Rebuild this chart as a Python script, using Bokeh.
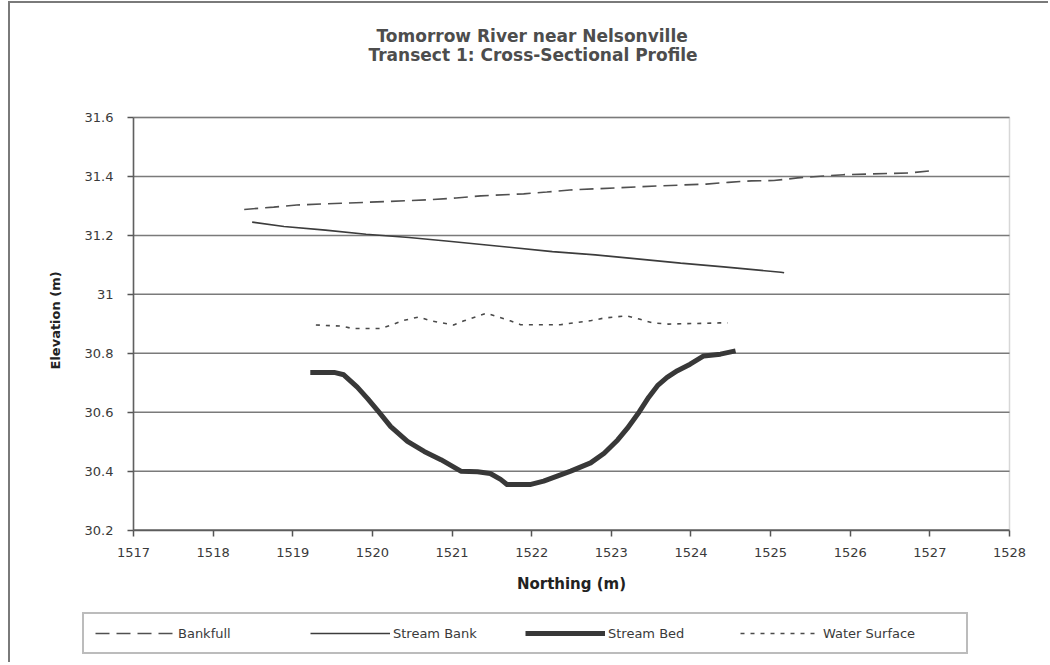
from bokeh.plotting import figure
from bokeh.models import Title, Legend, LegendItem, FixedTicker, Range1d, BoxAnnotation
from bokeh.embed import file_html
from bokeh.resources import INLINE

# ---------------- data ----------------
bankfull_x = [1518.39, 1518.76, 1519.05, 1519.61, 1520.19, 1520.73, 1521.05, 1521.36,
              1521.90, 1522.19, 1522.48, 1523.04, 1523.60, 1524.19, 1524.47, 1524.76,
              1525.04, 1525.34, 1525.92, 1526.75, 1527.00]
bankfull_y = [31.288, 31.296, 31.303, 31.309, 31.315, 31.321, 31.327, 31.334,
              31.341, 31.347, 31.354, 31.361, 31.368, 31.374, 31.380, 31.385,
              31.386, 31.395, 31.406, 31.412, 31.419]

bank_x = [1518.49, 1518.89, 1519.41, 1519.92, 1520.46, 1520.96, 1521.72, 1522.26,
          1522.80, 1523.29, 1523.87, 1524.41, 1525.13, 1525.17]
bank_y = [31.245, 31.230, 31.218, 31.204, 31.193, 31.180, 31.160, 31.145,
          31.134, 31.121, 31.106, 31.093, 31.075, 31.073]

bed_x = [1519.22, 1519.52, 1519.64, 1519.81, 1519.94, 1520.08, 1520.23, 1520.44,
         1520.65, 1520.86, 1521.11, 1521.32, 1521.48, 1521.61, 1521.69, 1521.99,
         1522.15, 1522.32, 1522.49, 1522.74, 1522.91, 1523.08, 1523.20, 1523.35,
         1523.47, 1523.58, 1523.70, 1523.83, 1523.99, 1524.16, 1524.37, 1524.56]
bed_y = [30.735, 30.735, 30.727, 30.685, 30.646, 30.601, 30.551, 30.501,
         30.467, 30.439, 30.400, 30.398, 30.392, 30.372, 30.355, 30.355,
         30.366, 30.383, 30.400, 30.428, 30.461, 30.506, 30.545, 30.601,
         30.651, 30.690, 30.718, 30.741, 30.763, 30.791, 30.797, 30.808]

water_x = [1519.29, 1519.62, 1519.75, 1520.10, 1520.24, 1520.37, 1520.58, 1520.73,
           1521.02, 1521.15, 1521.43, 1521.73, 1521.86, 1522.36, 1522.75, 1522.92,
           1523.19, 1523.35, 1523.52, 1523.72, 1524.36, 1524.46]
water_y = [30.896, 30.892, 30.884, 30.884, 30.896, 30.910, 30.923, 30.910,
           30.896, 30.910, 30.936, 30.910, 30.897, 30.897, 30.911, 30.920,
           30.927, 30.916, 30.903, 30.899, 30.903, 30.903]

series_names = ["Bankfull", "Stream Bank", "Stream Bed", "Water Surface"]

x_ticks = [1517, 1518, 1519, 1520, 1521, 1522, 1523, 1524, 1525, 1526, 1527, 1528]
x_tick_labels = ["1517", "1518", "1519", "1520", "1521", "1522", "1523", "1524",
                 "1525", "1526", "1527", "1528"]
y_ticks = [30.2, 30.4, 30.6, 30.8, 31.0, 31.2, 31.4, 31.6]
y_tick_labels = ["30.2", "30.4", "30.6", "30.8", "31", "31.2", "31.4", "31.6"]

title_line1 = "Tomorrow River near Nelsonville"
title_line2 = "Transect 1: Cross-Sectional Profile"
x_label = "Northing (m)"
y_label = "Elevation (m)"

# ---------------- layout (pixels) ----------------
PLOT_W, PLOT_H = 876, 412.6          # the gridded plot area
LEFT_BAND, LEGEND_BAND = 51, 124.4   # frame room left of / below the plot area
RIGHT_BAND, TOP_BAND = 25, 10        # frame room right of / above the plot area
FRAME_W = int(PLOT_W + LEFT_BAND + RIGHT_BAND)
FRAME_H = int(round(PLOT_H + LEGEND_BAND + TOP_BAND))

x0, x1 = x_ticks[0], x_ticks[-1]
y0, y1 = y_ticks[0], y_ticks[-1]
x_start = x0 - LEFT_BAND * (x1 - x0) / PLOT_W
x_end = x1 + RIGHT_BAND * (x1 - x0) / PLOT_W
y_start = y0 - LEGEND_BAND * (y1 - y0) / PLOT_H
y_end = y1 + TOP_BAND * (y1 - y0) / PLOT_H

GRAY = "#7a7a7a"
TXT = "#3a3a3a"

p = figure(frame_width=FRAME_W, frame_height=FRAME_H, output_backend="svg",
           toolbar_location=None, title=None,
           x_range=Range1d(x_start, x_end), y_range=Range1d(y_start, y_end),
           min_border_left=72, min_border_right=14,
           min_border_top=104, min_border_bottom=8,
           background_fill_color="white", border_fill_color="white")
p.styles = {"margin-left": "8px", "margin-top": "1px",
            "border-left": "2px solid #7a7a7a", "border-top": "2px solid #7a7a7a"}
p.outline_line_color = None
p.xgrid.visible = False
p.ygrid.visible = False

# horizontal grid lines across the plot area, at the y ticks
p.segment(x0=[x0] * len(y_ticks), x1=[x1] * len(y_ticks), y0=y_ticks, y1=y_ticks,
          line_color=GRAY, line_width=1.5)
# plot-area border
p.add_layout(BoxAnnotation(left=x0, right=x1, bottom=y0, top=y1,
                           fill_alpha=0, line_color=GRAY, line_width=1.5))

for ax in (p.xaxis[0], p.yaxis[0]):
    ax.axis_line_color = "#555555"
    ax.axis_line_width = 1.5
    ax.major_tick_line_color = "#555555"
    ax.major_tick_line_width = 1.5
    ax.major_tick_in = 0
    ax.major_tick_out = 6
    ax.minor_tick_line_color = None
    ax.major_label_text_font = "DejaVu Sans"
    ax.major_label_text_font_size = "13px"
    ax.major_label_text_color = TXT
    ax.axis_label_text_font = "DejaVu Sans"
    ax.axis_label_text_font_style = "bold"
    ax.axis_label_text_color = "#222222"

p.xaxis.fixed_location = y0
p.xaxis.bounds = (x0, x1)
p.xaxis.ticker = FixedTicker(ticks=x_ticks)
p.xaxis.major_label_overrides = {t: l for t, l in zip(x_ticks, x_tick_labels)}
p.xaxis.major_label_standoff = 12
p.xaxis.axis_label = x_label
p.xaxis.axis_label_text_font_size = "15px"
p.xaxis.axis_label_standoff = 14

p.yaxis.fixed_location = x0
p.yaxis.bounds = (y0, y1)
p.yaxis.ticker = FixedTicker(ticks=y_ticks)
p.yaxis.major_label_overrides = {t: l for t, l in zip(y_ticks, y_tick_labels)}
p.yaxis.major_label_standoff = 14

# y-axis title in the left panel (outside the frame)
ytitle = Title(text=y_label, align="left", offset=285, standoff=39,
               text_font="DejaVu Sans", text_font_size="13px", text_font_style="bold",
               text_color="#222222")
p.add_layout(ytitle, "left")

r_bf = p.line(bankfull_x, bankfull_y, line_color="#505050", line_width=1.6, line_dash="14 7")
r_sb = p.line(bank_x, bank_y, line_color="#3c3c3c", line_width=1.6)
r_bed = p.line(bed_x, bed_y, line_color="#383838", line_width=5, line_join="round")
r_ws = p.line(water_x, water_y, line_color="#4a4a4a", line_width=1.6, line_dash="4 6")

legend = Legend(
    items=[LegendItem(label=n, renderers=[r]) for n, r in
           zip(series_names, [r_bf, r_sb, r_bed, r_ws])],
    orientation="horizontal", location=(0, 0), margin=0,
    glyph_width=80, glyph_height=16, label_standoff=3, spacing=0, padding=11,
    label_width=132, label_text_font="DejaVu Sans", label_text_font_size="13px",
    label_text_color=TXT, border_line_color=GRAY, border_line_width=2,
    background_fill_color="white", background_fill_alpha=1.0)
p.add_layout(legend)

# title block: spacer next to the frame, then line 2, then line 1
spacer = Title(text=" ", standoff=30, text_font_size="10px")
t2 = Title(text=title_line2, align="left", offset=286, standoff=0,
           text_font="DejaVu Sans", text_font_size="17px", text_font_style="bold",
           text_color="#4d4d4d")
t1 = Title(text=title_line1, align="left", offset=294, standoff=-7,
           text_font="DejaVu Sans", text_font_size="17px", text_font_style="bold",
           text_color="#4d4d4d")
p.add_layout(spacer, "above")
p.add_layout(t2, "above")
p.add_layout(t1, "above")

open("out.html", "w").write(file_html(p, INLINE))
